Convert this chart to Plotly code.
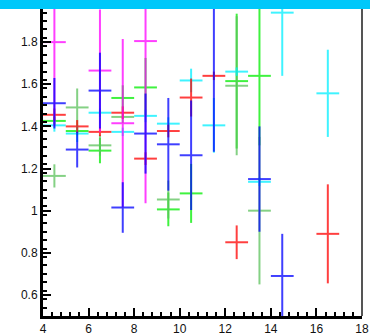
import plotly.graph_objects as go

# ---- data (bin centres, values, symmetric y-errors); x half-width 0.5 ----
half_width = 0.5

red_x = [4.5, 5.5, 6.5, 7.5, 8.5, 9.5, 10.5, 11.5, 12.5, 16.5]
red_y = [1.455, 1.40, 1.374, 1.465, 1.247, 1.378, 1.537, 1.64, 0.85, 0.89]
red_err = [0.03, 0.03, 0.02, 0.03, 0.03, 0.03, 0.09, 0.02, 0.08, 0.235]

blue_x = [4.5, 5.5, 6.5, 7.5, 8.5, 9.5, 10.5, 11.5, 13.5, 14.5]
blue_y = [1.51, 1.29, 1.57, 1.015, 1.366, 1.315, 1.263, 2.02, 1.15, 0.69]
blue_err = [0.12, 0.085, 0.18, 0.12, 0.19, 0.22, 0.26, 0.74, 0.25, 0.20]

magenta_x = [4.5, 6.5, 7.5, 8.5]
magenta_y = [1.80, 1.665, 1.415, 1.805]
magenta_err = [0.40, 0.29, 0.40, 0.77]

cyan_x = [4.5, 5.5, 6.5, 7.5, 8.5, 9.5, 10.5, 11.5, 12.5, 13.5, 14.5, 16.5]
cyan_y = [1.405, 1.366, 1.465, 1.374, 1.45, 1.413, 1.618, 1.405, 1.66, 1.137, 1.94, 1.557]
cyan_err = [0.03, 0.04, 0.02, 0.02, 0.03, 0.03, 0.056, 0.13, 0.02, 0.02, 0.30, 0.207]

green_x = [4.5, 5.5, 6.5, 7.5, 8.5, 9.5, 10.5, 12.5, 13.5]
green_y = [1.426, 1.378, 1.285, 1.535, 1.585, 1.006, 1.082, 1.615, 1.64]
green_err = [0.02, 0.02, 0.06, 0.06, 0.14, 0.08, 0.14, 0.32, 0.33]

pale_x = [4.5, 5.5, 6.5, 7.5, 9.5, 12.5, 13.5]
pale_y = [1.165, 1.49, 1.31, 1.445, 1.053, 1.593, 1.0]
pale_err = [0.055, 0.09, 0.05, 0.03, 0.09, 0.33, 0.35]

y_tickvals = [0.6, 0.8, 1.0, 1.2, 1.4, 1.6, 1.8]
y_ticktext = ["0.6", "0.8", "1", "1.2", "1.4", "1.6", "1.8"]
x_tickvals = [4, 6, 8, 10, 12, 14, 16, 18]
x_ticktext = ["4", "6", "8", "10", "12", "14", "16", "18"]

series = [
    (green_x, green_y, green_err, "#00ee00"),
    (pale_x, pale_y, pale_err, "#5cc25c"),
    (cyan_x, cyan_y, cyan_err, "#00f0ff"),
    (red_x, red_y, red_err, "#ff0000"),
    (magenta_x, magenta_y, magenta_err, "#ff00ff"),
    (blue_x, blue_y, blue_err, "#0000ff"),
]

fig = go.Figure()
for xs, ys, es, col in series:
    fig.add_trace(go.Scatter(
        x=xs, y=ys, mode="markers",
        marker=dict(size=0.1, color=col),
        error_y=dict(type="data", array=es, color=col, thickness=2, width=0),
        error_x=dict(type="constant", value=half_width, color=col, thickness=2, width=0),
        opacity=0.75, showlegend=False, hoverinfo="skip",
    ))

fig.update_layout(
    width=370, height=333,
    margin=dict(l=43, r=8, t=0, b=17, autoexpand=False),
    paper_bgcolor="white", plot_bgcolor="white",
    font=dict(family="Liberation Sans, Arial, sans-serif", size=12, color="#111"),
    xaxis=dict(
        range=[4, 18], tickvals=x_tickvals, ticktext=x_ticktext, automargin=False,
        ticks="inside", ticklen=8, tickwidth=2, tickcolor="black",
        showgrid=False, zeroline=False,
        showline=True, linewidth=3, linecolor="black",
        minor=dict(dtick=0.4, tick0=4, ticks="inside", ticklen=4, tickwidth=2, tickcolor="black", showgrid=False),
        tickfont=dict(size=12),
    ),
    yaxis=dict(
        range=[0.5, 2.0], tickvals=y_tickvals, ticktext=y_ticktext, automargin=False,
        ticks="inside", ticklen=8, tickwidth=2, tickcolor="black",
        showgrid=False, zeroline=False,
        showline=True, linewidth=3, linecolor="black",
        minor=dict(dtick=0.04, tick0=0.5, ticks="inside", ticklen=4, tickwidth=2, tickcolor="black", showgrid=False),
        tickfont=dict(size=12),
    ),
    shapes=[
        dict(type="line", xref="paper", yref="paper", x0=1, x1=1, y0=0, y1=1,
             line=dict(color="#555555", width=2), layer="above"),
        dict(type="rect", xref="paper", yref="paper", x0=-43 / 319, x1=1 + 8 / 319,
             y0=1 - 9 / 316, y1=1, fillcolor="#00c8fa", line=dict(width=0), layer="above"),
    ],
)

fig.write_html(
    "out.html",
    config={"displayModeBar": False},
    post_script="document.body.style.margin='0';document.body.style.overflow='hidden';",
)
